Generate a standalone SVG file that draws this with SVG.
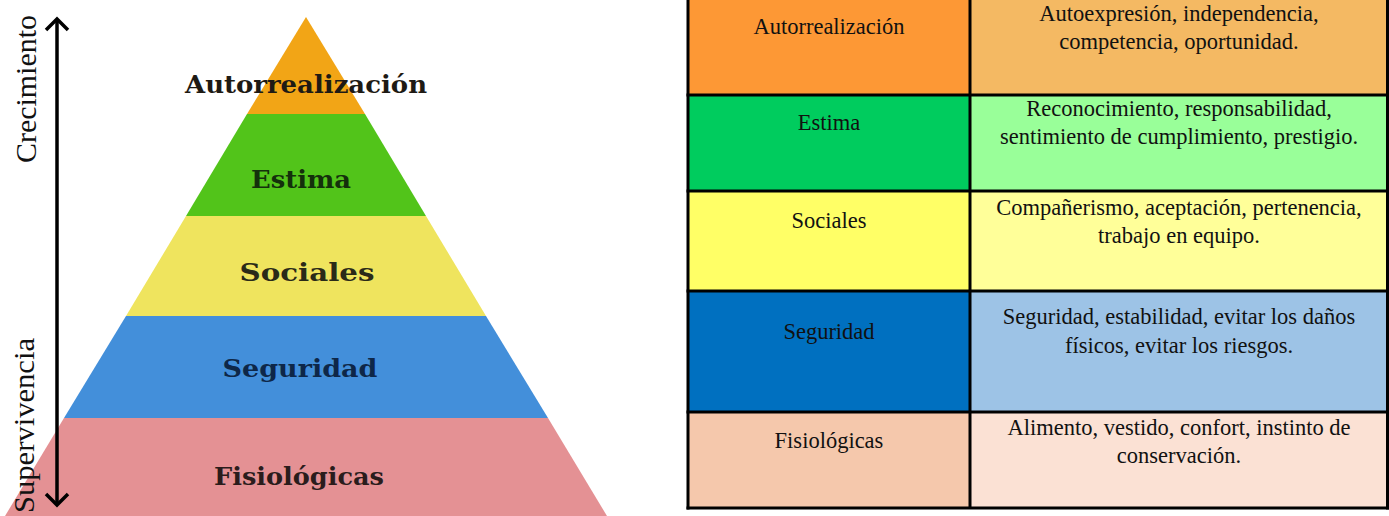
<svg xmlns="http://www.w3.org/2000/svg" width="1389" height="516" viewBox="0 0 1389 516">
<defs>
<style>
.pl{font-family:"DejaVu Serif","Liberation Serif",serif;font-weight:bold;font-size:25px;text-anchor:middle}
.side{font-family:"Liberation Serif","DejaVu Serif",serif;font-size:30px;fill:#111}
.tl{font-family:"Liberation Serif","DejaVu Serif",serif;font-size:22.5px;fill:#111;text-anchor:middle}
.ar{fill:none;stroke:#000;stroke-width:3.5;stroke-linecap:butt}
.grid{stroke:#000;stroke-width:3;fill:none}
</style>
</defs>
<rect width="1389" height="516" fill="#ffffff"/>

<g id="pyramid">
<g id="p-autorrealizacion">
<polygon points="306,17 365,114 247,114" fill="#f2a516"/>
<text class="pl" x="306" y="93" fill="#1e1a14" textLength="242" lengthAdjust="spacingAndGlyphs">Autorrealización</text>
</g>
<g id="p-estima">
<polygon points="247,114 365,114 426,216 186,216" fill="#52c41a"/>
<text class="pl" x="301" y="188" fill="#14300c" textLength="100" lengthAdjust="spacingAndGlyphs">Estima</text>
</g>
<g id="p-sociales">
<polygon points="186,216 426,216 486,316 126,316" fill="#efe45e"/>
<text class="pl" x="307" y="281" fill="#2a2a18" textLength="135" lengthAdjust="spacingAndGlyphs">Sociales</text>
</g>
<g id="p-seguridad">
<polygon points="126,316 486,316 548,418 64,418" fill="#438fda"/>
<text class="pl" x="300" y="377" fill="#0e2748" textLength="155" lengthAdjust="spacingAndGlyphs">Seguridad</text>
</g>
<g id="p-fisiologicas">
<polygon points="64,418 548,418 607,516 5,516" fill="#e49194"/>
<text class="pl" x="299" y="485" fill="#2a1c1c" textLength="170" lengthAdjust="spacingAndGlyphs">Fisiológicas</text>
</g>
</g>

<g id="connectors">
<line class="ar" x1="57" y1="19" x2="57" y2="505"/>
<polyline class="ar" points="46,30 57,19 68,30"/>
<polyline class="ar" points="46,494 57,505 68,494"/>
</g>

<g id="axis-labels">
<text class="side" transform="translate(36,163) rotate(-90)" textLength="148" lengthAdjust="spacingAndGlyphs">Crecimiento</text>
<text class="side" transform="translate(34,338) rotate(-90)" text-anchor="end" textLength="175" lengthAdjust="spacingAndGlyphs">Supervivencia</text>
</g>

<g id="table">
<g id="t-row1">
<rect x="688" y="0" width="282" height="95" fill="#fd9835"/>
<rect x="970" y="0" width="418" height="95" fill="#f4b963"/>
<text class="tl" x="829" y="34">Autorrealización</text>
<text class="tl" x="1179" y="21">Autoexpresión, independencia,</text>
<text class="tl" x="1179" y="49">competencia, oportunidad.</text>
</g>
<g id="t-row2">
<rect x="688" y="95" width="282" height="96" fill="#00cc5e"/>
<rect x="970" y="95" width="418" height="96" fill="#99ff99"/>
<text class="tl" x="829" y="130">Estima</text>
<text class="tl" x="1179" y="116">Reconocimiento, responsabilidad,</text>
<text class="tl" x="1179" y="144">sentimiento de cumplimiento, prestigio.</text>
</g>
<g id="t-row3">
<rect x="688" y="191" width="282" height="100" fill="#ffff66"/>
<rect x="970" y="191" width="418" height="100" fill="#ffff99"/>
<text class="tl" x="829" y="228">Sociales</text>
<text class="tl" x="1179" y="215">Compañerismo, aceptación, pertenencia,</text>
<text class="tl" x="1179" y="243">trabajo en equipo.</text>
</g>
<g id="t-row4">
<rect x="688" y="291" width="282" height="121" fill="#0070c0"/>
<rect x="970" y="291" width="418" height="121" fill="#9dc3e6"/>
<text class="tl" x="829" y="339">Seguridad</text>
<text class="tl" x="1179" y="324">Seguridad, estabilidad, evitar los daños</text>
<text class="tl" x="1179" y="353">físicos, evitar los riesgos.</text>
</g>
<g id="t-row5">
<rect x="688" y="412" width="282" height="96" fill="#f5c8ac"/>
<rect x="970" y="412" width="418" height="96" fill="#fbe1d4"/>
<text class="tl" x="829" y="448">Fisiológicas</text>
<text class="tl" x="1179" y="435">Alimento, vestido, confort, instinto de</text>
<text class="tl" x="1179" y="463">conservación.</text>
</g>
<g id="t-grid" class="grid">
<line x1="688" y1="0" x2="688" y2="509.5"/>
<line x1="970" y1="0" x2="970" y2="508"/>
<line x1="1387.5" y1="0" x2="1387.5" y2="509.5"/>
<line x1="686.5" y1="95" x2="1389" y2="95"/>
<line x1="686.5" y1="191" x2="1389" y2="191"/>
<line x1="686.5" y1="291" x2="1389" y2="291"/>
<line x1="686.5" y1="412" x2="1389" y2="412"/>
<line x1="686.5" y1="508" x2="1389" y2="508"/>
</g>
</g>
</svg>
